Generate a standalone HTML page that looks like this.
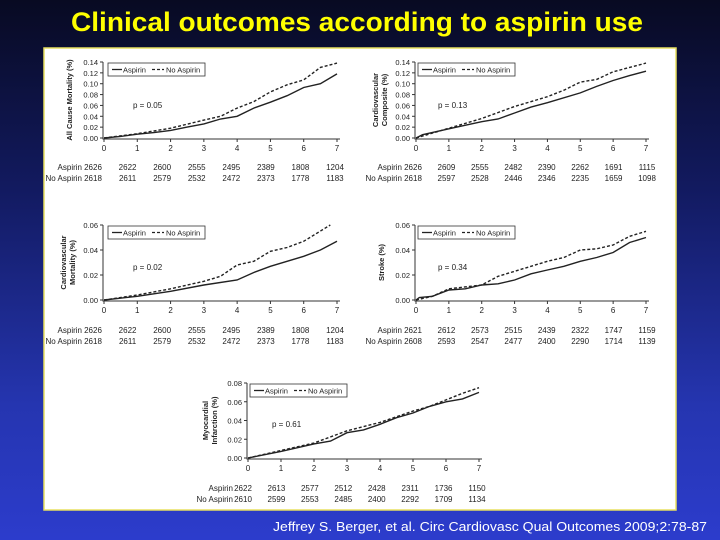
<!DOCTYPE html>
<html><head><meta charset="utf-8"><style>
html,body{margin:0;width:720px;height:540px;overflow:hidden;background:linear-gradient(#080a22 0%,#121a60 35%,#2535b0 75%,#2c3ccc 100%);font-family:"Liberation Sans",sans-serif}
</style></head><body>
<svg id="s" width="720" height="540" xmlns="http://www.w3.org/2000/svg">
<text x="357" y="31" text-anchor="middle" font-size="27" font-weight="bold" fill="#ffff00" textLength="572" lengthAdjust="spacingAndGlyphs">Clinical outcomes according to aspirin use</text>
<rect x="44" y="48" width="632" height="462" fill="#fff" stroke="#e8e060" stroke-width="1.5"/>
<text x="707" y="531" text-anchor="end" font-size="13" fill="#fff" textLength="434" lengthAdjust="spacingAndGlyphs">Jeffrey S. Berger, et al. Circ Cardiovasc Qual Outcomes 2009;2:78-87</text>
<g id="charts"></g>
</svg>
<script>
const years=[0,1,2,3,4,5,6,7];
const p1Asp=[[0,0],[0.5,0.003],[1,0.007],[1.5,0.01],[2,0.014],[2.5,0.02],[3,0.026],[3.5,0.035],[4,0.04],[4.5,0.055],[5,0.066],[5.5,0.078],[6,0.093],[6.5,0.1],[7,0.118]];
const p1No=[[0,0],[1,0.008],[2,0.018],[3,0.033],[3.5,0.04],[4,0.055],[4.5,0.067],[5,0.085],[5.5,0.098],[6,0.107],[6.5,0.13],[7,0.138]];
const p2Asp=[[0,0],[0.2,0.006],[1,0.017],[2,0.03],[2.5,0.035],[3,0.046],[3.5,0.057],[4,0.065],[5,0.083],[5.5,0.095],[6,0.106],[6.5,0.115],[7,0.123]];
const p2No=[[0,0],[1,0.018],[2,0.036],[3,0.058],[4,0.076],[4.5,0.088],[5,0.103],[5.5,0.108],[6,0.122],[7,0.138]];
const p3Asp=[[0,0],[1,0.003],[2,0.007],[3,0.012],[4,0.016],[4.5,0.022],[5,0.027],[6,0.035],[6.5,0.04],[7,0.047]];
const p3No=[[0,0],[1,0.004],[2,0.009],[3,0.015],[3.5,0.019],[4,0.028],[4.5,0.031],[5,0.039],[5.5,0.042],[6,0.047],[6.8,0.06]];
const p4Asp=[[0,0],[0.1,0.002],[0.5,0.003],[1,0.008],[1.5,0.009],[2,0.012],[2.5,0.013],[3,0.016],[3.5,0.021],[4,0.024],[4.5,0.027],[5,0.031],[5.5,0.034],[6,0.038],[6.5,0.046],[7,0.05]];
const p4No=[[0,0],[0.5,0.003],[1,0.009],[2,0.012],[2.5,0.019],[3,0.023],[3.5,0.027],[4,0.031],[4.5,0.034],[5,0.04],[5.5,0.041],[6,0.044],[6.5,0.051],[7,0.055]];
const p5Asp=[[0,0],[1,0.007],[2,0.015],[2.5,0.018],[3,0.027],[3.5,0.03],[4,0.036],[4.5,0.043],[5,0.048],[5.5,0.055],[6,0.06],[6.5,0.063],[7,0.07]];
const p5No=[[0,0],[1,0.008],[2,0.016],[3,0.029],[4,0.038],[5,0.05],[5.5,0.055],[6,0.062],[6.5,0.069],[7,0.075]];
const ticks14=[0,0.02,0.04,0.06,0.08,0.10,0.12,0.14];
const ticks06=[0,0.02,0.04,0.06];
const ticks08=[0,0.02,0.04,0.06,0.08];
const p1AspN=[2626,2622,2600,2555,2495,2389,1808,1204];
const p1NoN=[2618,2611,2579,2532,2472,2373,1778,1183];
const p2AspN=[2626,2609,2555,2482,2390,2262,1691,1115];
const p2NoN=[2618,2597,2528,2446,2346,2235,1659,1098];
const p4AspN=[2621,2612,2573,2515,2439,2322,1747,1159];
const p4NoN=[2608,2593,2547,2477,2400,2290,1714,1139];
const p5AspN=[2622,2613,2577,2512,2428,2311,1736,1150];
const p5NoN=[2610,2599,2553,2485,2400,2292,1709,1134];

const NS="http://www.w3.org/2000/svg";
const root=document.getElementById('charts');
function mk(tag,attrs,parent,text){const e=document.createElementNS(NS,tag);for(const k in attrs)e.setAttribute(k,attrs[k]);if(text!==undefined)e.textContent=text;parent.appendChild(e);return e;}

function chart(o){
  const g=mk('g',{},root);
  
  
  const ymax=o.ticks[o.ticks.length-1];
  const sx=v=>o.x0+(o.x7-o.x0)*v/7;
  const sy=v=>o.y0-(o.y0-o.yt)*v/ymax;
  const ax=mk('path',{d:`M${o.x0-1} ${o.yt} V${o.y0+1} H${o.x7+3}`,stroke:'#333',fill:'none','stroke-width':1},g);
  
  
  o.ticks.forEach(t=>{
    mk('line',{x1:o.x0-4,x2:o.x0-1,y1:sy(t),y2:sy(t),stroke:'#333'},g);
    const tl=mk('text',{x:o.x0-6,y:sy(t)+3,'font-size':7.5,'text-anchor':'end',fill:'#222'},g,t.toFixed(2));
    
    
  });
  years.forEach(yv=>{
    mk('line',{x1:sx(yv),x2:sx(yv),y1:o.y0+1,y2:o.y0+4,stroke:'#333'},g);
    const tl=mk('text',{x:sx(yv),y:o.y0+13,'font-size':8,'text-anchor':'middle',fill:'#222'},g,String(yv));
    
    
  });
  const yl=mk('text',{transform:`translate(${o.ylx},${(o.y0+o.yt)/2}) rotate(-90)`,'font-size':7.5,'font-weight':'bold','text-anchor':'middle',fill:'#222'},g);
  
  
  o.ylab.forEach((l,i)=>mk('tspan',{x:0,dy:i?9:(o.ylab.length>1?-4:0)},yl,l));
  const line=(pts,dash,nm)=>{
    let d='';pts.forEach((p,i)=>{d+=(i?'L':'M')+sx(p[0]).toFixed(1)+' '+sy(p[1]).toFixed(1);});
    const pe=mk('path',{d:d,fill:'none',stroke:'#222','stroke-width':1.4},g);
    if(dash)pe.setAttribute('stroke-dasharray','3 2');
    
    
  };
  line(o.no,true,'no-aspirin-line');
  line(o.asp,false,'aspirin-line');
  const lg=mk('g',{},g);
  
  
  mk('rect',{x:o.lx,y:o.ly,width:97,height:13,fill:'#fff',stroke:'#333','stroke-width':0.8},lg);
  mk('line',{x1:o.lx+4,x2:o.lx+14,y1:o.ly+6.5,y2:o.ly+6.5,stroke:'#222','stroke-width':1.3},lg);
  mk('text',{x:o.lx+15,y:o.ly+9.5,'font-size':7.5,fill:'#222'},lg,'Aspirin');
  mk('line',{x1:o.lx+44,x2:o.lx+56,y1:o.ly+6.5,y2:o.ly+6.5,stroke:'#222','stroke-width':1.3,'stroke-dasharray':'3 2'},lg);
  mk('text',{x:o.lx+58,y:o.ly+9.5,'font-size':7.5,fill:'#222'},lg,'No Aspirin');
  const pv=mk('text',{x:o.px,y:o.py,'font-size':8,fill:'#222'},g,o.p);
  
  
  [[o.aspN,'Aspirin',o.r1],[o.noN,'No Aspirin',o.r1+11]].forEach(([arr,lab,yy])=>{
    const rl=mk('text',{x:o.rlx,y:yy,'font-size':8,'text-anchor':'end',fill:'#222'},g,lab);
    
    
    arr.forEach((n,i)=>{
      const t=mk('text',{x:o.n0+(o.n7-o.n0)*i/7,y:yy,'font-size':8,'text-anchor':'middle',fill:'#222'},g,String(n));
      
      
    });
  });
}
chart({name:'all-cause-mortality-chart',x0:104,x7:337,y0:138,yt:62,ticks:ticks14,asp:p1Asp,no:p1No,ylab:['All Cause Mortality (%)'],ylx:72,lx:108,ly:63,p:'p = 0.05',px:133,py:108,aspN:p1AspN,noN:p1NoN,r1:170,rlx:82,n0:93,n7:335});
chart({name:'cardiovascular-composite-chart',x0:416,x7:646,y0:138,yt:62,ticks:ticks14,asp:p2Asp,no:p2No,ylab:['Cardiovascular','Composite (%)'],ylx:382,lx:418,ly:63,p:'p = 0.13',px:438,py:108,aspN:p2AspN,noN:p2NoN,r1:170,rlx:402,n0:413,n7:647});
chart({name:'cardiovascular-mortality-chart',x0:104,x7:337,y0:300,yt:225,ticks:ticks06,asp:p3Asp,no:p3No,ylab:['Cardiovascular','Mortality (%)'],ylx:70,lx:108,ly:226,p:'p = 0.02',px:133,py:270,aspN:p1AspN,noN:p1NoN,r1:333,rlx:82,n0:93,n7:335});
chart({name:'stroke-chart',x0:416,x7:646,y0:300,yt:225,ticks:ticks06,asp:p4Asp,no:p4No,ylab:['Stroke (%)'],ylx:384,lx:418,ly:226,p:'p = 0.34',px:438,py:270,aspN:p4AspN,noN:p4NoN,r1:333,rlx:402,n0:413,n7:647});
chart({name:'myocardial-infarction-chart',x0:248,x7:479,y0:458,yt:383,ticks:ticks08,asp:p5Asp,no:p5No,ylab:['Myocardial','Infarction (%)'],ylx:212,lx:250,ly:384,p:'p = 0.61',px:272,py:427,aspN:p5AspN,noN:p5NoN,r1:491,rlx:233,n0:243,n7:477});
</script>
</body></html>
